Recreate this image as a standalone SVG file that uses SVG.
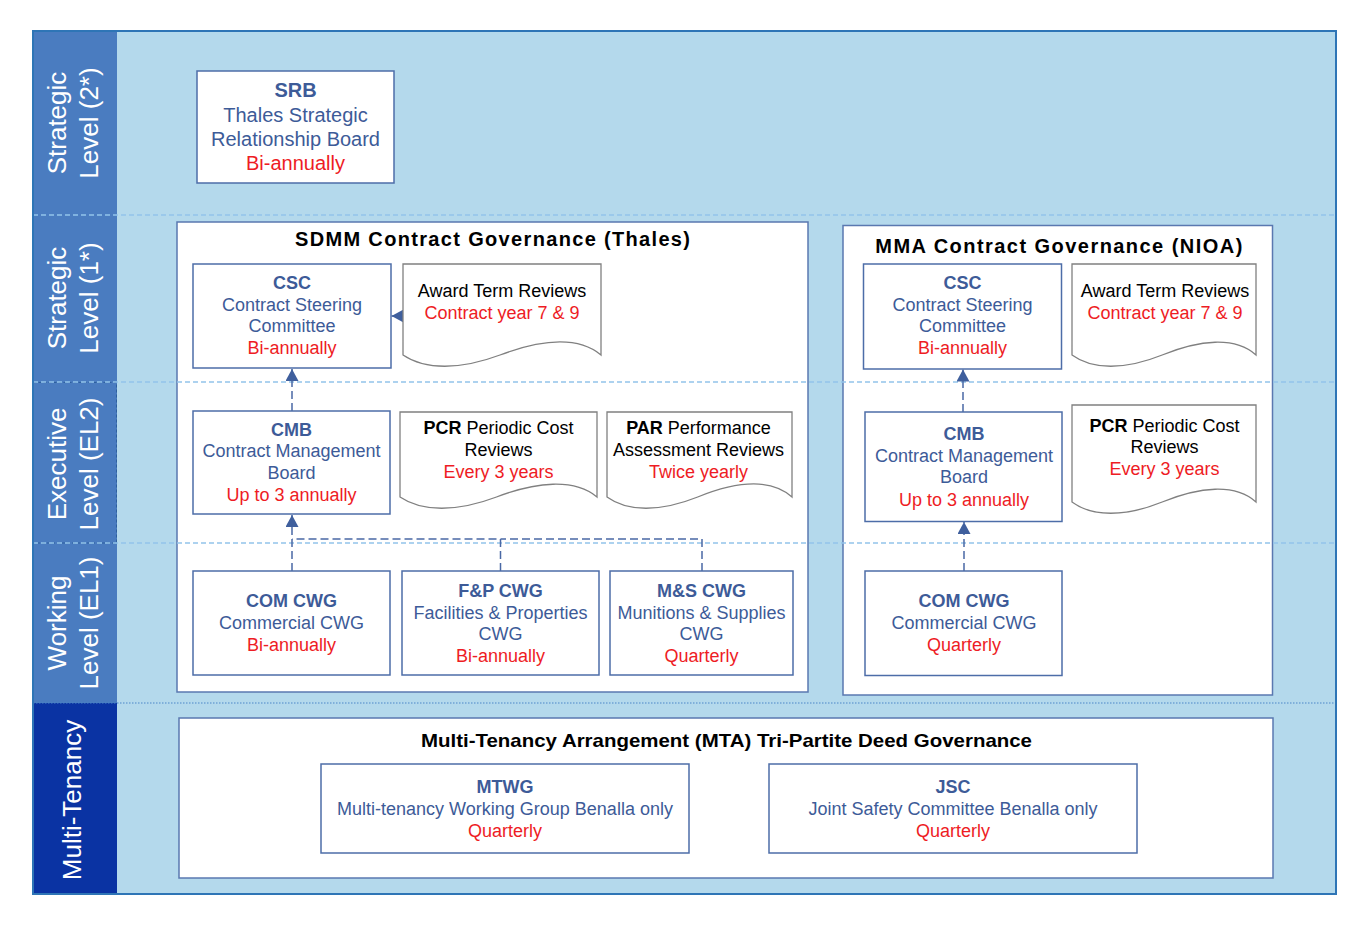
<svg xmlns="http://www.w3.org/2000/svg" width="1371" height="927" viewBox="0 0 1371 927">
<style>
text{font-family:"Liberation Sans",Arial,sans-serif;}
.lbl{font-size:26px;fill:#ffffff;text-anchor:middle;}
.box{fill:#ffffff;stroke:#4d6da8;stroke-width:1.5;}
.cont{fill:#ffffff;stroke:#5a78b0;stroke-width:1.5;}
.doc{fill:#ffffff;stroke:#808080;stroke-width:1.3;}
.t{font-size:18px;text-anchor:middle;fill:#3d5b98;}
.b{font-weight:bold;}
.r{fill:#ee1c24;}
.k{fill:#000000;}
.ttl{font-size:20px;font-weight:bold;text-anchor:middle;fill:#000000;}
.div{stroke:#93c4ea;stroke-width:1.3;stroke-dasharray:5,3;fill:none;}
.con{stroke:#4a68a5;stroke-width:1.5;fill:none;stroke-dasharray:8,4;}
</style>
<defs>
<marker id="ah" viewBox="0 0 12 13" refX="12" refY="6.5" markerWidth="12" markerHeight="13" markerUnits="userSpaceOnUse" orient="auto">
<path d="M0,0 L12,6.5 L0,13 Z" fill="#3f5f9d"/>
</marker>
</defs>
<g id="background">
<rect x="33" y="31" width="1303" height="863" fill="#b4d9ec"/>
<rect x="33" y="31" width="84" height="672" fill="#4a7cc0"/>
<rect x="33" y="703" width="84" height="191" fill="#0a33a3"/>
<rect x="33.5" y="382.5" width="83" height="160.5" fill="none" stroke="#2d5f9e" stroke-width="1" stroke-dasharray="3,2"/>
</g>
<g id="lane-labels">
<text class="lbl" transform="translate(66,123) rotate(-90)">Strategic</text>
<text class="lbl" transform="translate(98,123) rotate(-90)">Level (2*)</text>
<text class="lbl" transform="translate(66,298) rotate(-90)">Strategic</text>
<text class="lbl" transform="translate(98,298) rotate(-90)">Level (1*)</text>
<text class="lbl" transform="translate(66,464) rotate(-90)">Executive</text>
<text class="lbl" transform="translate(98,464) rotate(-90)">Level (EL2)</text>
<text class="lbl" transform="translate(66,623) rotate(-90)">Working</text>
<text class="lbl" transform="translate(98,623) rotate(-90)">Level (EL1)</text>
<text class="lbl" transform="translate(81,800) rotate(-90)">Multi-Tenancy</text>
</g>
<g id="containers">
<g id="sdmm">
<rect class="cont" x="177" y="222" width="631" height="470"/>
<text class="ttl" x="492.5" y="246" textLength="395" lengthAdjust="spacing">SDMM Contract Governance (Thales)</text>
</g>
<g id="mma">
<rect class="cont" x="843" y="225.5" width="429.5" height="469.5"/>
<text class="ttl" x="1058.8" y="253" textLength="367" lengthAdjust="spacing">MMA Contract Governance (NIOA)</text>
</g>
<g id="mta">
<rect class="cont" x="179" y="718" width="1094" height="160"/>
<text class="ttl" x="726.5" y="747" style="font-size:19px" textLength="611" lengthAdjust="spacingAndGlyphs">Multi-Tenancy Arrangement (MTA) Tri-Partite Deed Governance</text>
</g>
</g>
<g id="dividers">
<line class="div" x1="33" y1="215" x2="1336" y2="215"/>
<line class="div" x1="33" y1="382" x2="1336" y2="382"/>
<line class="div" x1="33" y1="543" x2="1336" y2="543"/>
<line x1="33" y1="703" x2="1336" y2="703" stroke="#4a86c8" stroke-width="1" stroke-dasharray="1.5,1.5"/>
</g>
<g id="connectors">
<path d="M403,316 L391.5,316" stroke="#3f5f9d" stroke-width="1.5" fill="none" marker-end="url(#ah)"/>
<path class="con" d="M292,411 L292,369" marker-end="url(#ah)"/>
<path class="con" d="M292,571 L292,515" marker-end="url(#ah)"/>
<path class="con" d="M500.5,571 V539 H292"/>
<path class="con" d="M702,571 V539 H500.5"/>
<path class="con" d="M963,412 L963,369.5" marker-end="url(#ah)"/>
<path class="con" d="M964,571 L964,522" marker-end="url(#ah)"/>
</g>
<g id="srb">
<rect class="box" x="197" y="71" width="197" height="112"/>
<text class="t b" x="295.5" y="97" style="font-size:20px">SRB</text>
<text class="t" x="295.5" y="121.5" style="font-size:20px">Thales Strategic</text>
<text class="t" x="295.5" y="145.5" style="font-size:20px">Relationship Board</text>
<text class="t r" x="295.5" y="170" style="font-size:20px">Bi-annually</text>
</g>
<g id="sdmm-csc">
<rect class="box" x="193" y="264" width="198" height="104"/>
<text class="t b" x="292" y="289">CSC</text>
<text class="t" x="292" y="310.7">Contract Steering</text>
<text class="t" x="292" y="332.4">Committee</text>
<text class="t r" x="292" y="354">Bi-annually</text>
</g>
<g id="sdmm-award">
<path class="doc" d="M403,264 H601 V355 C578,336 540,340 500,355 C460,370 425,370 403,355 Z"/>
<text class="t k" x="502" y="297">Award Term Reviews</text>
<text class="t r" x="502" y="319">Contract year 7 &amp; 9</text>
</g>
<g id="sdmm-cmb">
<rect class="box" x="193" y="411" width="197" height="103"/>
<text class="t b" x="291.5" y="435.5">CMB</text>
<text class="t" x="291.5" y="457.2">Contract Management</text>
<text class="t" x="291.5" y="478.9">Board</text>
<text class="t r" x="291.5" y="500.6">Up to 3 annually</text>
</g>
<g id="sdmm-pcr">
<path class="doc" d="M400,412 H597 V497 C574,478 536,482 496.5,497 C457,512 422,512 400,497 Z"/>
<text class="t k" x="498.5" y="434.3"><tspan class="b">PCR</tspan> Periodic Cost</text>
<text class="t k" x="498.5" y="456">Reviews</text>
<text class="t r" x="498.5" y="477.5">Every 3 years</text>
</g>
<g id="sdmm-par">
<path class="doc" d="M607,412 H792 V497 C770.5,478 735,482 697.7,497 C660.3,512 627.5,512 607,497 Z"/>
<text class="t k" x="698.5" y="434.3"><tspan class="b">PAR</tspan> Performance</text>
<text class="t k" x="698.5" y="456">Assessment Reviews</text>
<text class="t r" x="698.5" y="477.5">Twice yearly</text>
</g>
<g id="sdmm-com">
<rect class="box" x="193" y="571" width="197" height="104"/>
<text class="t b" x="291.5" y="606.7">COM CWG</text>
<text class="t" x="291.5" y="628.7">Commercial CWG</text>
<text class="t r" x="291.5" y="650.7">Bi-annually</text>
</g>
<g id="sdmm-fp">
<rect class="box" x="402" y="571" width="197" height="104"/>
<text class="t b" x="500.5" y="597">F&amp;P CWG</text>
<text class="t" x="500.5" y="618.7">Facilities &amp; Properties</text>
<text class="t" x="500.5" y="640.4">CWG</text>
<text class="t r" x="500.5" y="662">Bi-annually</text>
</g>
<g id="sdmm-ms">
<rect class="box" x="610" y="571" width="183" height="104"/>
<text class="t b" x="701.5" y="597">M&amp;S CWG</text>
<text class="t" x="701.5" y="618.7">Munitions &amp; Supplies</text>
<text class="t" x="701.5" y="640.4">CWG</text>
<text class="t r" x="701.5" y="662">Quarterly</text>
</g>
<g id="mma-csc">
<rect class="box" x="863.5" y="264" width="198" height="105"/>
<text class="t b" x="962.5" y="289">CSC</text>
<text class="t" x="962.5" y="310.7">Contract Steering</text>
<text class="t" x="962.5" y="332.4">Committee</text>
<text class="t r" x="962.5" y="354">Bi-annually</text>
</g>
<g id="mma-award">
<path class="doc" d="M1072,264 H1256 V355 C1234.7,336 1199.3,340 1162.2,355 C1125,370 1092.4,370 1072,355 Z"/>
<text class="t k" x="1165" y="297">Award Term Reviews</text>
<text class="t r" x="1165" y="319">Contract year 7 &amp; 9</text>
</g>
<g id="mma-cmb">
<rect class="box" x="865" y="412" width="197" height="109.5"/>
<text class="t b" x="964" y="440">CMB</text>
<text class="t" x="964" y="461.7">Contract Management</text>
<text class="t" x="964" y="483.4">Board</text>
<text class="t r" x="964" y="505.5">Up to 3 annually</text>
</g>
<g id="mma-pcr">
<path class="doc" d="M1072,405 H1256 V502 C1234.7,483 1199.3,487 1162.2,502 C1125,517 1092.4,517 1072,502 Z"/>
<text class="t k" x="1164.5" y="431.5"><tspan class="b">PCR</tspan> Periodic Cost</text>
<text class="t k" x="1164.5" y="453.2">Reviews</text>
<text class="t r" x="1164.5" y="475">Every 3 years</text>
</g>
<g id="mma-com">
<rect class="box" x="865" y="571" width="197" height="104.5"/>
<text class="t b" x="964" y="606.7">COM CWG</text>
<text class="t" x="964" y="628.7">Commercial CWG</text>
<text class="t r" x="964" y="650.7">Quarterly</text>
</g>
<g id="mtwg">
<rect class="box" x="321" y="764" width="368" height="89"/>
<text class="t b" x="505" y="792.5">MTWG</text>
<text class="t" x="505" y="814.5">Multi-tenancy Working Group Benalla only</text>
<text class="t r" x="505" y="836.5">Quarterly</text>
</g>
<g id="jsc">
<rect class="box" x="769" y="764" width="368" height="89"/>
<text class="t b" x="953" y="792.5">JSC</text>
<text class="t" x="953" y="814.5">Joint Safety Committee Benalla only</text>
<text class="t r" x="953" y="836.5">Quarterly</text>
</g>
<g id="frame">
<rect x="33" y="31" width="1303" height="863" fill="none" stroke="#2e75b6" stroke-width="2"/>
</g>
</svg>
